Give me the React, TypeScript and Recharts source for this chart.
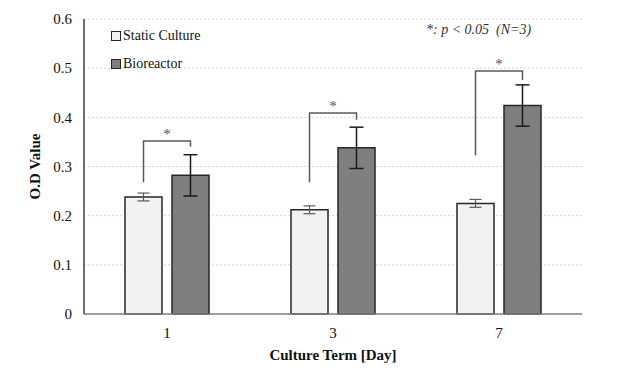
import { BarChart, Bar, XAxis, YAxis, CartesianGrid, ErrorBar, LabelList } from 'recharts';

const DAYS = ['1', '3', '7'];
const STATIC_MEAN = [0.238, 0.212, 0.225];
const STATIC_ERR = [0.008, 0.008, 0.008];
const BIO_MEAN = [0.282, 0.338, 0.424];
const BIO_ERR = [0.042, 0.042, 0.042];
// significance brackets (data units)
const BRACKET_TOP = [0.352, 0.409, 0.494];
const BRACKET_LEFT_FOOT = [0.268, 0.268, 0.323];
const BRACKET_RIGHT_FOOT = [0.34, 0.395, 0.476];
const Y_TICKS = [0, 0.1, 0.2, 0.3, 0.4, 0.5, 0.6];

const SERIES = [
  { key: 'static', name: 'Static Culture', fill: '#f2f2f2' },
  { key: 'bio', name: 'Bioreactor', fill: '#7f7f7f' },
];

const data = DAYS.map((day, i) => ({
  day,
  static: STATIC_MEAN[i],
  staticErr: STATIC_ERR[i],
  bio: BIO_MEAN[i],
  bioErr: BIO_ERR[i],
}));

const FONT = '"Liberation Serif", "Times New Roman", serif';
const BAR_GAP = 10;

function Bracket(props: any) {
  const { x, y, width, height, index } = props;
  const value = BIO_MEAN[index];
  const bottom = y + height;
  const py = (v: number) => bottom - (v * height) / value;
  const rx = x + width / 2;
  const lx = x - BAR_GAP - width / 2;
  const top = py(BRACKET_TOP[index]);
  return (
    <g>
      <polyline
        points={`${lx},${py(BRACKET_LEFT_FOOT[index])} ${lx},${top} ${rx},${top} ${rx},${py(BRACKET_RIGHT_FOOT[index])}`}
        fill="none"
        stroke="#595959"
        strokeWidth={1.5}
      />
      <text x={(lx + rx) / 2} y={top - 2} textAnchor="middle" fontFamily={FONT} fontSize={15} fill="#4a5566">
        *
      </text>
    </g>
  );
}

export default function App() {
  return (
    <div style={{ position: 'absolute', left: 0, top: 0, width: 640, height: 377, background: '#fff' }}>
      <BarChart
        width={640}
        height={377}
        data={data}
        margin={{ top: 19, right: 58, left: 0, bottom: 13 }}
        barSize={37}
        barGap={BAR_GAP}
      >
        <CartesianGrid vertical={false} stroke="#d4d4d4" strokeDasharray="2 2" />
        <XAxis
          dataKey="day"
          height={50}
          tickLine={false}
          tickSize={0}
          tickMargin={13}
          stroke="#808080"
          strokeWidth={1.5}
          tick={{ fill: '#111', fontFamily: FONT, fontSize: 15 }}
          label={{
            value: 'Culture  Term [Day]',
            position: 'insideBottom',
            offset: 4,
            style: { fontFamily: FONT, fontSize: 15, fontWeight: 'bold', fill: '#111', whiteSpace: 'pre' },
          }}
        />
        <YAxis
          width={84}
          domain={[0, 0.6]}
          ticks={Y_TICKS}
          tickLine={false}
          tickSize={0}
          tickMargin={12}
          stroke="#404040"
          strokeWidth={1.5}
          tick={{ fill: '#111', fontFamily: FONT, fontSize: 15 }}
          label={{
            value: 'O.D Value',
            angle: -90,
            position: 'insideLeft',
            offset: 35,
            style: { fontFamily: FONT, fontSize: 15, fontWeight: 'bold', fill: '#111', textAnchor: 'middle' },
          }}
        />
        <Bar dataKey="static" name="Static Culture" fill="#f2f2f2" stroke="#262626" strokeWidth={1.5} isAnimationActive={false}>
          <ErrorBar dataKey="staticErr" width={6} stroke="#595959" strokeWidth={1.2} />
        </Bar>
        <Bar dataKey="bio" name="Bioreactor" fill="#7f7f7f" stroke="#262626" strokeWidth={1.5} isAnimationActive={false}>
          <ErrorBar dataKey="bioErr" width={7} stroke="#1a1a1a" strokeWidth={1.5} />
          <LabelList dataKey="bio" content={<Bracket />} />
        </Bar>
      </BarChart>
      <div style={{ position: 'absolute', left: 111, top: 22, fontFamily: FONT, fontSize: 14, color: '#111' }}>
        {SERIES.map((s) => (
          <div key={s.key} style={{ display: 'flex', alignItems: 'center', height: 28 }}>
            <span
              style={{
                display: 'inline-block',
                width: 8,
                height: 8,
                background: s.fill,
                border: '1px solid #262626',
                marginRight: 2,
              }}
            />
            {s.name}
          </div>
        ))}
      </div>
      <div
        style={{
          position: 'absolute',
          left: 426,
          top: 22,
          fontFamily: FONT,
          fontSize: 14,
          fontStyle: 'italic',
          color: '#333',
          whiteSpace: 'pre',
        }}
      >
        {'*: p < 0.05  (N=3)'}
      </div>
    </div>
  );
}
